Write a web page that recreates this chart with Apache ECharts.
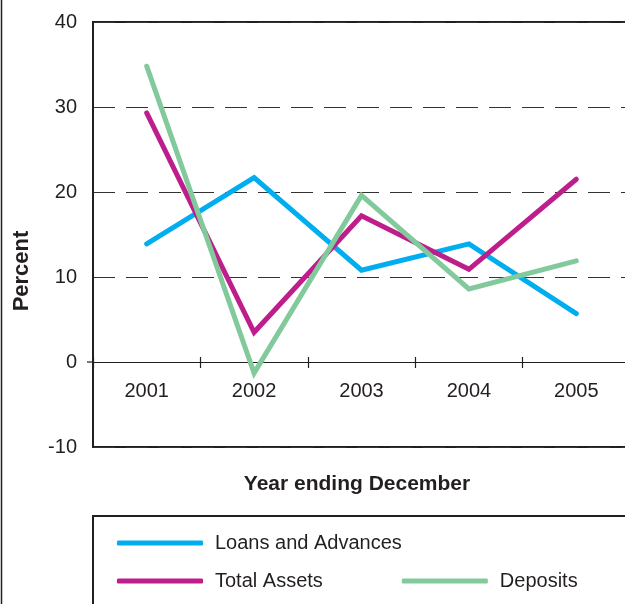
<!DOCTYPE html>
<html>
<head>
<meta charset="utf-8">
<script src="https://cdn.jsdelivr.net/npm/echarts@6/dist/echarts.min.js"></script>
<style>
  html, body { margin: 0; padding: 0; background: #fff; }
  #chart { width: 625px; height: 604px; }
</style>
</head>
<body>
<div id="chart"></div>
<script>
// Annual growth rates, percent
const years = ['2001', '2002', '2003', '2004', '2005'];
const loansAndAdvances = [13.9, 21.7, 10.8, 13.9, 5.7];
const totalAssets = [29.3, 3.5, 17.2, 10.9, 21.5];
const deposits = [34.8, -1.3, 19.6, 8.6, 11.9];
const yTicks = { min: -10, max: 40, step: 10 };

const FONT = '"Liberation Sans", Arial, sans-serif';
const INK = '#231f20';
const COLORS = { loans: '#00aeef', assets: '#be1e8c', deposits: '#82ca9c' };

const GRID = { left: 93, top: 22, width: 537, height: 425 };
// distance from the bottom frame up to the zero line
const zeroOffset = -GRID.height * (0 - yTicks.min) / (yTicks.max - yTicks.min);

const chart = echarts.init(document.getElementById('chart'), null, { renderer: 'canvas' });

function lineSeries(name, data, color) {
  return {
    name: name,
    type: 'line',
    data: data,
    symbol: 'none',
    color: color,
    lineStyle: { width: 5, color: color, cap: 'round', join: 'miter' },
    z: 3
  };
}

const option = {
  animation: false,
  backgroundColor: '#fff',
  grid: {
    left: GRID.left, top: GRID.top, width: GRID.width, height: GRID.height,
    outerBoundsMode: 'none', containLabel: false,
    show: true, borderWidth: 2, borderColor: INK, backgroundColor: 'transparent'
  },
  xAxis: [
    {
      type: 'category',
      data: years,
      position: 'bottom',
      offset: zeroOffset,
      boundaryGap: true,
      axisLine: { onZero: false, lineStyle: { color: INK, width: 1.2 } },
      axisTick: { show: true, length: 6, lineStyle: { color: INK, width: 1.2 } },
      axisLabel: { color: INK, fontFamily: FONT, fontSize: 20, margin: 19 },
      splitLine: { show: false }
    },
    {
      type: 'category',
      data: years,
      position: 'bottom',
      offset: zeroOffset,
      boundaryGap: true,
      axisLine: { show: false, onZero: false },
      axisTick: { show: true, inside: true, length: 5, lineStyle: { color: INK, width: 1.2 } },
      axisLabel: { show: false },
      splitLine: { show: false }
    }
  ],
  yAxis: {
    type: 'value',
    min: yTicks.min,
    max: yTicks.max,
    interval: yTicks.step,
    axisLine: { show: true, onZero: false, lineStyle: { color: INK, width: 2 } },
    axisTick: { show: false },
    axisLabel: { color: INK, fontFamily: FONT, fontSize: 20, margin: 16 },
    splitLine: { show: true, lineStyle: { color: '#333', width: 1.2, type: [22, 11] } }
  },
  legend: [
    {
      data: ['Loans and Advances'],
      left: 112, top: 528,
      icon: 'roundRect',
      itemWidth: 86, itemHeight: 5,
      textStyle: { color: INK, fontFamily: FONT, fontSize: 20, padding: [0, 0, 0, 7] },
      selectedMode: false
    },
    {
      data: ['Total Assets', 'Deposits'],
      left: 112, top: 566,
      icon: 'roundRect',
      itemWidth: 86, itemHeight: 5,
      itemGap: 79,
      textStyle: { color: INK, fontFamily: FONT, fontSize: 20, padding: [0, 0, 0, 7] },
      selectedMode: false
    }
  ],
  graphic: [
    // page frame on the left
    { type: 'line', shape: { x1: 1.5, y1: 0, x2: 1.5, y2: 604 }, style: { stroke: INK, lineWidth: 1.5 } },
    // legend frame
    { type: 'rect', shape: { x: 93, y: 516, width: 560, height: 120 }, style: { fill: 'none', stroke: INK, lineWidth: 2 } },
    {
      type: 'text', x: 357, y: 484,
      style: { text: 'Year ending December', font: 'bold 21px ' + FONT, fill: INK, align: 'center', verticalAlign: 'middle' }
    },
    {
      type: 'text', x: 22, y: 271, rotation: Math.PI / 2,
      style: { text: 'Percent', font: 'bold 22px ' + FONT, fill: INK, align: 'center', verticalAlign: 'middle' }
    }
  ],
  series: [
    lineSeries('Loans and Advances', loansAndAdvances, COLORS.loans),
    lineSeries('Total Assets', totalAssets, COLORS.assets),
    lineSeries('Deposits', deposits, COLORS.deposits)
  ]
};

chart.setOption(option);

// short stub of the zero line to the left of the value axis
const zeroPt = chart.convertToPixel({ gridIndex: 0 }, [0, 0]);
chart.setOption({
  graphic: option.graphic.concat([
    { type: 'line', shape: { x1: 87, y1: zeroPt[1], x2: 93, y2: zeroPt[1] }, style: { stroke: INK, lineWidth: 1.2 } }
  ])
});
</script>
</body>
</html>
